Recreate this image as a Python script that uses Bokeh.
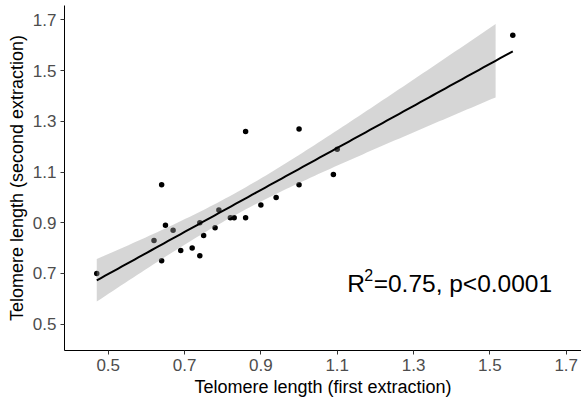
import numpy as np
from bokeh.plotting import figure
from bokeh.models import Range1d, FixedTicker, ColumnDataSource, Label
from bokeh.embed import file_html
from bokeh.resources import INLINE

# ---- data ----
first_extraction = [0.47, 0.62, 0.64, 0.64, 0.65, 0.67, 0.69, 0.72, 0.74, 0.74, 0.75, 0.78,
                    0.79, 0.82, 0.83, 0.86, 0.86, 0.90, 0.94, 1.00, 1.00, 1.09, 1.10, 1.56]
second_extraction = [0.70, 0.83, 0.75, 1.05, 0.89, 0.87, 0.79, 0.80, 0.77, 0.90, 0.85, 0.88,
                     0.95, 0.92, 0.92, 0.92, 1.26, 0.97, 1.00, 1.05, 1.27, 1.09, 1.19, 1.64]
x_ticks = [0.5, 0.7, 0.9, 1.1, 1.3, 1.5, 1.7]
y_ticks = [0.5, 0.7, 0.9, 1.1, 1.3, 1.5, 1.7]
x_title = "Telomere length (first extraction)"
y_title = "Telomere length (second extraction)"
annotation_base = "R"
annotation_sup = "2"
annotation_rest = "=0.75, p<0.0001"
annotation_x = 1.126        # left edge of the annotation (data units)
annotation_y = 0.660        # baseline of the annotation (data units)
band_x_end = 1.515          # the grey confidence band stops here in the reference
t_crit = 2.0739             # Student t, 0.975 quantile, df = 22

# ---- linear fit with 95% confidence band ----
x = np.array(first_extraction)
y = np.array(second_extraction)
n = len(x)
slope, intercept = np.polyfit(x, y, 1)
resid = y - (slope * x + intercept)
s = np.sqrt(np.sum(resid ** 2) / (n - 2))
xbar = x.mean()
sxx = np.sum((x - xbar) ** 2)

line_x = np.linspace(x.min(), x.max(), 100)
line_y = slope * line_x + intercept
band_x = np.linspace(x.min(), band_x_end, 100)
band_fit = slope * band_x + intercept
hw = t_crit * s * np.sqrt(1.0 / n + (band_x - xbar) ** 2 / sxx)

pts = ColumnDataSource(dict(x=x, y=y))
band = ColumnDataSource(dict(x=band_x, lower=band_fit - hw, upper=band_fit + hw))
fit = ColumnDataSource(dict(x=line_x, y=line_y))

p = figure(width=581, height=402,
           x_range=Range1d(0.3855, 1.740), y_range=Range1d(0.396, 1.757),
           output_backend="svg", toolbar_location=None,
           min_border_left=64, min_border_right=0, min_border_top=5, min_border_bottom=52)
p.outline_line_color = None
p.background_fill_color = "white"
p.border_fill_color = "white"
p.xgrid.visible = False
p.ygrid.visible = False

p.scatter("x", "y", source=pts, size=5.5, fill_color="black", line_color=None)
p.varea(x="x", y1="lower", y2="upper", source=band, fill_color="#999999", fill_alpha=0.4)
p.line("x", "y", source=fit, line_color="black", line_width=2)

common = dict(x=annotation_x, y=annotation_y, text_align="left", text_baseline="alphabetic",
              text_font="Liberation Sans", text_color="black")
p.add_layout(Label(text=annotation_base, text_font_size="24.5px", **common))
p.add_layout(Label(text=annotation_sup, text_font_size="16px", x_offset=17, y_offset=9, **common))
p.add_layout(Label(text=annotation_rest, text_font_size="24.5px", x_offset=26.5, **common))

for ax, ticks, title in ((p.xaxis[0], x_ticks, x_title), (p.yaxis[0], y_ticks, y_title)):
    ax.ticker = FixedTicker(ticks=ticks)
    ax.minor_tick_line_color = None
    ax.major_tick_in = 0
    ax.major_tick_out = 4
    ax.major_tick_line_color = "#333333"
    ax.axis_line_color = "black"
    ax.axis_line_width = 1
    ax.major_label_text_font = "Liberation Sans"
    ax.major_label_text_font_size = "17px"
    ax.major_label_text_color = "#4D4D4D"
    ax.major_label_standoff = 4
    ax.axis_label = title
    ax.axis_label_text_font = "Liberation Sans"
    ax.axis_label_text_font_size = "18px"
    ax.axis_label_text_font_style = "normal"
    ax.axis_label_text_color = "black"
    ax.axis_label_standoff = 3

open("out.html", "w").write(file_html(p, INLINE))
